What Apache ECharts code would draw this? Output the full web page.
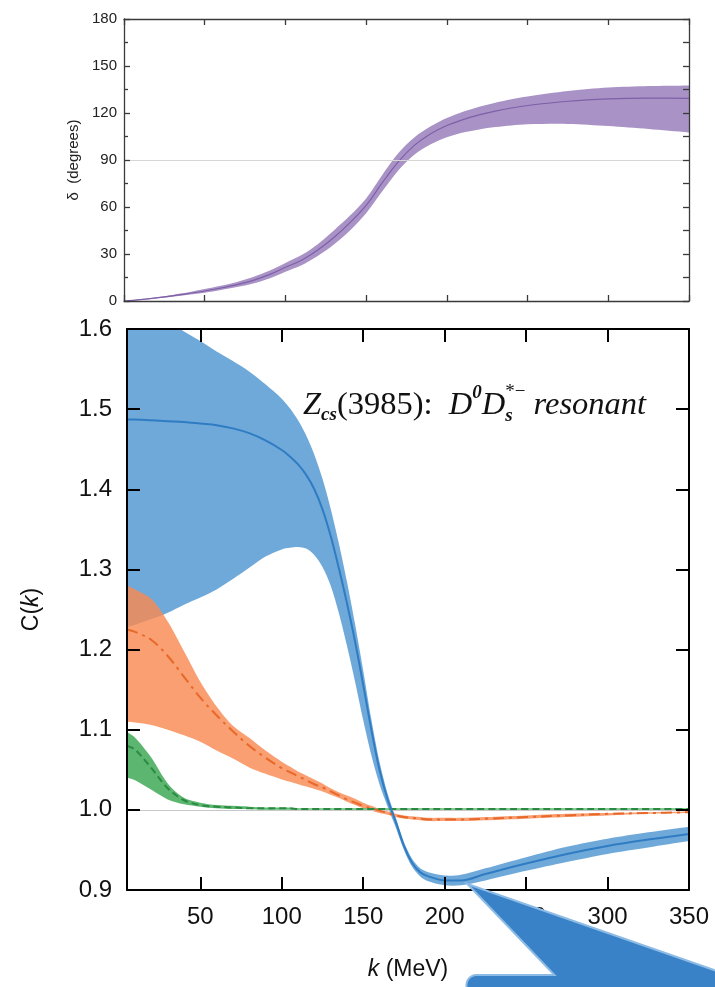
<!DOCTYPE html>
<html>
<head>
<meta charset="utf-8">
<script src="https://cdn.jsdelivr.net/npm/echarts@6/dist/echarts.min.js"></script>
<style>
  html, body { margin: 0; padding: 0; background: #fff; }
  #chart { width: 715px; height: 987px; }
</style>
</head>
<body>
<div id="chart"></div>
<script>
// Phase shift delta(k) in degrees: central curve with its uncertainty band
const kPhase = [0, 10, 20, 30, 40, 50, 60, 70, 80, 90, 100, 110, 120, 130, 140, 150, 160, 170, 180, 190, 200, 210, 220, 230, 240, 250, 275, 300, 325, 350];
const deltaMid = [0, 0.9, 2.0, 3.3, 4.8, 6.4, 8.3, 10.5, 13.2, 16.8, 21.5, 26.0, 32.5, 40.5, 50.0, 61.0, 75.5, 89.0, 99.5, 106.8, 112.0, 115.8, 118.8, 121.2, 123.2, 124.8, 127.5, 129.0, 129.5, 129.3];
const deltaHi  = [0, 1.1, 2.4, 3.9, 5.6, 7.6, 9.7, 12.2, 15.3, 19.3, 24.3, 29.3, 36.3, 45.0, 54.5, 65.5, 80.5, 94.5, 104.5, 111.5, 116.8, 120.8, 124.0, 126.6, 128.8, 130.6, 134.0, 136.2, 137.2, 137.6];
const deltaLo  = [0, 0.7, 1.6, 2.7, 4.0, 5.3, 7.0, 8.9, 11.2, 14.4, 18.7, 22.8, 28.7, 36.0, 45.0, 56.0, 70.0, 83.5, 93.5, 100.0, 104.5, 107.5, 109.5, 111.0, 112.1, 112.8, 113.0, 111.7, 109.8, 107.6];

// Correlation function C(k), k in MeV
const kCorr = [5, 10, 20, 30, 40, 50, 60, 70, 80, 90, 100, 105, 110, 115, 120, 125, 130, 135, 140, 145, 150, 155, 160, 165, 170, 175, 180, 185, 190, 200, 210, 225, 250, 275, 300, 325, 350];

// resonant case (blue, solid)
const blueMid = [1.487, 1.487, 1.486, 1.485, 1.484, 1.482, 1.480, 1.476, 1.470, 1.461, 1.449, 1.441, 1.431, 1.418, 1.400, 1.375, 1.342, 1.302, 1.258, 1.210, 1.156, 1.100, 1.050, 1.013, 0.985, 0.955, 0.934, 0.922, 0.917, 0.912, 0.912, 0.920, 0.933, 0.945, 0.955, 0.963, 0.970];
const blueHi  = [1.640, 1.635, 1.625, 1.610, 1.597, 1.585, 1.572, 1.560, 1.547, 1.531, 1.513, 1.501, 1.486, 1.467, 1.443, 1.413, 1.376, 1.333, 1.285, 1.232, 1.174, 1.113, 1.060, 1.020, 0.990, 0.960, 0.939, 0.927, 0.922, 0.918, 0.919, 0.927, 0.941, 0.954, 0.964, 0.972, 0.979];
const blueLo  = [1.228, 1.231, 1.238, 1.246, 1.256, 1.265, 1.275, 1.288, 1.302, 1.316, 1.325, 1.327, 1.328, 1.326, 1.318, 1.303, 1.280, 1.246, 1.205, 1.160, 1.112, 1.068, 1.032, 1.004, 0.978, 0.950, 0.929, 0.917, 0.911, 0.906, 0.906, 0.912, 0.924, 0.935, 0.945, 0.953, 0.961];

// orange, dash-dot
const orangeMid = [1.225, 1.222, 1.212, 1.192, 1.166, 1.140, 1.118, 1.098, 1.080, 1.065, 1.052, 1.047, 1.042, 1.037, 1.032, 1.028, 1.023, 1.018, 1.013, 1.009, 1.005, 1.002, 0.999, 0.996, 0.993, 0.991, 0.990, 0.989, 0.988, 0.988, 0.988, 0.989, 0.991, 0.993, 0.995, 0.996, 0.997];
const orangeHi  = [1.280, 1.275, 1.263, 1.235, 1.198, 1.160, 1.129, 1.105, 1.090, 1.074, 1.060, 1.054, 1.048, 1.043, 1.038, 1.033, 1.027, 1.022, 1.018, 1.014, 1.009, 1.005, 1.001, 0.998, 0.995, 0.993, 0.992, 0.991, 0.990, 0.990, 0.990, 0.991, 0.993, 0.995, 0.996, 0.997, 0.998];
const orangeLo  = [1.110, 1.109, 1.106, 1.100, 1.093, 1.085, 1.074, 1.064, 1.053, 1.045, 1.038, 1.035, 1.032, 1.029, 1.026, 1.023, 1.019, 1.015, 1.010, 1.006, 1.002, 0.999, 0.996, 0.994, 0.991, 0.989, 0.988, 0.987, 0.986, 0.986, 0.986, 0.987, 0.989, 0.991, 0.993, 0.995, 0.996];

// green, dashed
const greenMid = [1.080, 1.075, 1.052, 1.027, 1.012, 1.006, 1.004, 1.003, 1.002, 1.002, 1.002, 1.002, 1.001, 1.001, 1.001, 1.001, 1.001, 1.001, 1.001, 1.001, 1.001, 1.001, 1.001, 1.001, 1.001, 1.001, 1.001, 1.001, 1.001, 1.001, 1.001, 1.001, 1.001, 1.001, 1.001, 1.001, 1.001];
const greenHi  = [1.097, 1.090, 1.065, 1.033, 1.015, 1.009, 1.006, 1.005, 1.004, 1.003, 1.003, 1.003, 1.002, 1.002, 1.002, 1.002, 1.002, 1.002, 1.002, 1.002, 1.002, 1.002, 1.002, 1.002, 1.002, 1.002, 1.002, 1.002, 1.002, 1.002, 1.002, 1.002, 1.002, 1.002, 1.002, 1.002, 1.002];
const greenLo  = [1.040, 1.037, 1.025, 1.013, 1.007, 1.004, 1.002, 1.001, 1.001, 1.000, 1.000, 1.000, 1.000, 1.000, 1.000, 1.000, 1.000, 1.000, 1.000, 1.000, 1.000, 1.000, 1.000, 1.000, 1.000, 1.000, 1.000, 1.000, 1.000, 1.000, 1.000, 1.000, 1.000, 1.000, 1.000, 1.000, 1.000];

// tick labels
const phaseTicks = [0, 30, 60, 90, 120, 150, 180];
const kTicks = [50, 100, 150, 200, 250, 300, 350];

const SANS = '"Liberation Sans", Arial, Helvetica, sans-serif';
const SERIF = '"Liberation Serif", "Times New Roman", serif';

const pairs = (xs, ys) => xs.map((x, i) => [x, ys[i]]);

// uncertainty band: one closed polygon through the upper edge and back along the lower edge.
// End points are repeated so the smoothed outline keeps square ends.
function band(id, xs, lo, hi, color, xi, yi, z) {
  return {
    type: 'custom', id: id, xAxisIndex: xi, yAxisIndex: yi, silent: true, z: z,
    data: xs.map((x, i) => [x, lo[i], hi[i]]),
    renderItem: function (params, api) {
      if (params.dataIndex !== 0) return;
      const upper = xs.map((x, i) => api.coord([x, hi[i]]));
      const lower = xs.map((x, i) => api.coord([x, lo[i]])).reverse();
      const pts = [upper[0]].concat(upper, [upper[upper.length - 1]],
                                    [lower[0]], lower, [lower[lower.length - 1]]);
      const cs = params.coordSys;
      return {
        type: 'polygon',
        shape: { points: pts, smooth: 0.3 },
        style: { fill: color },
        clipPath: { type: 'rect', shape: { x: cs.x, y: cs.y, width: cs.width, height: cs.height } }
      };
    }
  };
}

function curve(id, xs, ys, color, type, width, xi, yi, z) {
  return {
    type: 'line', id: id, xAxisIndex: xi, yAxisIndex: yi, data: pairs(xs, ys),
    smooth: 0.35, symbol: 'none', silent: true,
    lineStyle: { color: color, width: width, type: type }, z: z
  };
}

const topLine = { color: '#3a3a3a', width: 1.3 };
const botLine = { color: '#000', width: 2 };

const chart = echarts.init(document.getElementById('chart'), null, { renderer: 'canvas' });

const option = {
  animation: false,
  backgroundColor: '#fff',
  grid: [
    { left: 124, top: 19, width: 565, height: 282 },
    { left: 127, top: 329, width: 562, height: 561 }
  ],
  xAxis: [
    { gridIndex: 0, type: 'value', min: 0, max: 350, interval: 50, position: 'bottom', z: 10,
      axisLine: { onZero: false, lineStyle: topLine }, axisTick: { inside: true, length: 6, lineStyle: topLine },
      axisLabel: { show: false }, splitLine: { show: false } },
    { gridIndex: 0, type: 'value', min: 0, max: 350, interval: 50, position: 'top', z: 10,
      axisLine: { onZero: false, lineStyle: topLine }, axisTick: { inside: true, length: 6, lineStyle: topLine },
      axisLabel: { show: false }, splitLine: { show: false } },
    { gridIndex: 1, type: 'value', min: 5, max: 350, position: 'bottom', z: 10,
      axisLine: { onZero: false, lineStyle: botLine },
      axisTick: { inside: true, length: 13, customValues: kTicks, lineStyle: botLine },
      axisLabel: { customValues: kTicks, fontSize: 24, fontFamily: SANS, color: '#111', margin: 15 },
      splitLine: { show: false },
      name: '{i|k} (MeV)', nameLocation: 'middle', nameGap: 68,
      nameTextStyle: { fontSize: 23, fontFamily: SANS, color: '#111',
        rich: { i: { fontSize: 23, fontFamily: SANS, fontStyle: 'italic', color: '#111' } } } },
    { gridIndex: 1, type: 'value', min: 5, max: 350, position: 'top', z: 10,
      axisLine: { onZero: false, lineStyle: botLine },
      axisTick: { inside: true, length: 13, customValues: kTicks, lineStyle: botLine },
      axisLabel: { show: false }, splitLine: { show: false } }
  ],
  yAxis: [
    { gridIndex: 0, type: 'value', min: 0, max: 180, interval: 30, position: 'left', z: 10,
      axisLine: { show: true, onZero: false, lineStyle: topLine },
      axisTick: { show: true, inside: true, length: 6, lineStyle: topLine },
      minorTick: { show: true, splitNumber: 2, length: 4, lineStyle: topLine },
      axisLabel: { fontSize: 15, fontFamily: SANS, color: '#222', margin: 7,
        formatter: v => phaseTicks.indexOf(v) >= 0 ? String(v) : '' },
      splitLine: { show: false },
      name: 'δ  (degrees)', nameLocation: 'middle', nameGap: 43, nameRotate: 90,
      nameTextStyle: { fontSize: 15, fontFamily: SANS, color: '#222' } },
    { gridIndex: 0, type: 'value', min: 0, max: 180, interval: 30, position: 'right', z: 10,
      axisLine: { show: true, onZero: false, lineStyle: topLine },
      axisTick: { show: true, inside: true, length: 6, lineStyle: topLine },
      minorTick: { show: true, splitNumber: 2, length: 6, lineStyle: topLine },
      axisLabel: { show: false }, splitLine: { show: false } },
    { gridIndex: 1, type: 'value', min: 0.9, max: 1.6, interval: 0.1, position: 'left', z: 10,
      axisLine: { show: true, onZero: false, lineStyle: botLine },
      axisTick: { show: true, inside: true, length: 13, lineStyle: botLine },
      axisLabel: { fontSize: 24, fontFamily: SANS, color: '#111', margin: 15,
        formatter: v => v.toFixed(1) },
      splitLine: { show: false },
      name: 'C({i|k})', nameLocation: 'middle', nameGap: 84, nameRotate: 90,
      nameTextStyle: { fontSize: 23, fontFamily: SANS, color: '#111',
        rich: { i: { fontSize: 23, fontFamily: SANS, fontStyle: 'italic', color: '#111' } } } },
    { gridIndex: 1, type: 'value', min: 0.9, max: 1.6, interval: 0.1, position: 'right', z: 10,
      axisLine: { show: true, onZero: false, lineStyle: botLine },
      axisTick: { show: true, inside: true, length: 13, lineStyle: botLine },
      axisLabel: { show: false }, splitLine: { show: false } }
  ],
  series: [
    // reference lines at 90 degrees and C = 1
    {
      type: 'line', id: 'ref-top', xAxisIndex: 0, yAxisIndex: 0, data: [], silent: true, z: 1,
      markLine: { silent: true, symbol: 'none', label: { show: false },
        lineStyle: { color: '#d6d6d6', width: 1, type: 'solid' }, data: [{ yAxis: 90 }] }
    },
    {
      type: 'line', id: 'ref-bot', xAxisIndex: 2, yAxisIndex: 2, data: [], silent: true, z: 1,
      markLine: { silent: true, symbol: 'none', label: { show: false },
        lineStyle: { color: '#c8c8c8', width: 1.2, type: 'solid' }, data: [{ yAxis: 1.0 }] }
    },
    band('phase-band', kPhase, deltaLo, deltaHi, '#a992c5', 0, 0, 2),
    curve('phase-mid', kPhase, deltaMid, '#7d60a8', 'solid', 1.2, 0, 0, 3),

    band('blue-band', kCorr, blueLo, blueHi, '#6fa9da', 2, 2, 2),
    band('orange-band', kCorr, orangeLo, orangeHi, 'rgba(248,138,82,0.82)', 2, 2, 3),
    band('green-band', kCorr, greenLo, greenHi, '#5cb66f', 2, 2, 4),
    curve('orange-mid', kCorr, orangeMid, '#e8682a', [11, 5, 3, 5], 2, 2, 2, 5),
    curve('green-mid', kCorr, greenMid, '#2b8a42', [7, 4], 2, 2, 2, 6),
    curve('blue-mid', kCorr, blueMid, '#2f7cc3', 'solid', 2, 2, 2, 7)
  ]
};

chart.setOption(option);

// ---- annotation: Z_cs(3985): D^0 D_s^{*-} resonant ----
const measureCtx = document.createElement('canvas').getContext('2d');
function textWidth(str, font) { measureCtx.font = font; return measureCtx.measureText(str).width; }

const big = 32.5, small = 19;
const pieces = [
  { t: 'Z', style: 'italic', weight: 'normal', size: big, dy: 0 },
  { t: 'cs', style: 'italic', weight: 'bold', size: small, dy: 10 },
  { t: '(3985):  ', style: 'normal', weight: 'normal', size: big, dy: 0 },
  { t: 'D', style: 'italic', weight: 'normal', size: big, dy: 0 },
  { t: '0', style: 'italic', weight: 'bold', size: small, dy: -12 },
  { t: 'D', style: 'italic', weight: 'normal', size: big, dy: 0 },
  { stack: [
      { t: '*−', style: 'normal', weight: 'normal', size: small, dy: -13 },
      { t: 's', style: 'italic', weight: 'bold', size: small, dy: 11 }
  ] },
  { t: ' resonant', style: 'italic', weight: 'normal', size: big, dy: 0 }
];

const fontOf = p => `${p.style} ${p.weight} ${p.size}px ${SERIF}`;
const annElems = [];
let cx = 303;
const cy = 405;
function pushText(p, x) {
  annElems.push({
    type: 'text', x: x, y: cy + p.dy, z: 50, silent: true,
    style: {
      text: p.t, fill: '#111', fontSize: p.size, fontFamily: SERIF, fontStyle: p.style,
      fontWeight: p.weight, align: 'left', verticalAlign: 'middle',
      textAlign: 'left', textVerticalAlign: 'middle'
    }
  });
}
pieces.forEach(p => {
  if (p.stack) {
    let w = 0;
    p.stack.forEach(s => { pushText(s, cx); w = Math.max(w, textWidth(s.t, fontOf(s))); });
    cx += w;
  } else {
    pushText(p, cx);
    cx += textWidth(p.t, fontOf(p));
  }
});

// ---- callout pointing at the minimum of C(k) ----
const tip = chart.convertToPixel({ xAxisIndex: 2, yAxisIndex: 2 }, [214, 0.9075]);
const boxTop = tip[1] + 91;
const boxLeft = tip[0] - 1;
const r = 10;
const calloutPts = [
  tip,
  [tip[0] + 258, boxTop - 1],
  [740, boxTop - 1],
  [740, 1010],
  [boxLeft, 1010],
  [boxLeft, boxTop + r]
];
for (let a = 1; a <= 6; a++) {
  const ang = Math.PI + (Math.PI / 2) * (a / 6);
  calloutPts.push([boxLeft + r + r * Math.cos(ang), boxTop + r + r * Math.sin(ang)]);
}
calloutPts.push([tip[0] + 87, boxTop]);

annElems.push({
  type: 'polygon', z: 60, silent: true,
  shape: { points: calloutPts },
  style: { fill: '#3a82c7', stroke: '#8cbbe6', lineWidth: 2 }
});

chart.setOption({ graphic: { elements: annElems } });
</script>
</body>
</html>
